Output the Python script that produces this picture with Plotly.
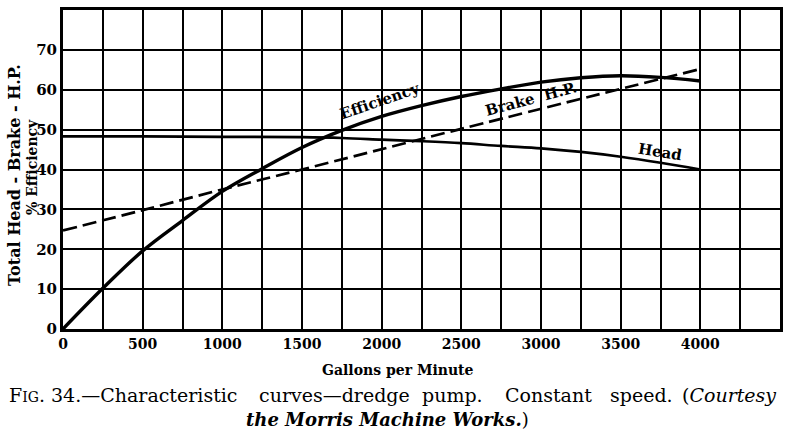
import plotly.graph_objects as go

gpm = [0, 250, 500, 750, 1000, 1250, 1500, 1750, 2000, 2250, 2500, 2750, 3000, 3250, 3500, 3750, 4000]
efficiency = [0, 10.2, 19.6, 27.2, 34.5, 40.2, 45.5, 49.8, 53.3, 56, 58.3, 60.2, 61.9, 63, 63.5, 63.1, 62.2]
head_gpm = [0, 500, 1000, 1500, 1750, 2000, 2250, 2500, 2750, 3000, 3250, 3500, 3750, 4000]
head = [48.3, 48.3, 48.2, 48.1, 47.9, 47.5, 47.1, 46.6, 45.9, 45.3, 44.4, 43.2, 41.7, 40]
brake_gpm = [0, 500, 1000, 1500, 2500, 4000]
brake_hp = [24.7, 29.8, 35, 40, 50.2, 65.2]

x_ticks = [0, 500, 1000, 1500, 2000, 2500, 3000, 3500, 4000]
y_ticks = [0, 10, 20, 30, 40, 50, 60, 70]

curve_labels = ["Efficiency", "Brake  H.P.", "Head"]
label_x = [1990, 2940, 3745]
label_y = [57.3, 57.7, 44.3]
label_angle = [-19, -15, 9]

caption_words = ["F<span style='font-size:14px'>IG</span>.", "34.—Characteristic", "curves—dredge",
                 "pump.", "Constant", "speed.", "(<i>Courtesy</i>"]
caption_left_px = [7, 49, 257, 420, 503, 608, 680]
caption_line2 = "<i><b>the Morris Machine Works.</b></i>)"

L, R, T, B = 63, 6, 10, 104
W, H = 786, 433
PW, PH = W - L - R, H - T - B

fig = go.Figure()
fig.add_trace(go.Scatter(x=gpm, y=efficiency, mode="lines", line=dict(color="black", width=3.4, shape="spline"), showlegend=False))
fig.add_trace(go.Scatter(x=head_gpm, y=head, mode="lines", line=dict(color="black", width=2.7, shape="spline"), showlegend=False))
fig.add_trace(go.Scatter(x=brake_gpm, y=brake_hp, mode="lines", line=dict(color="black", width=2.7, dash="14px,6px", shape="spline"), showlegend=False))

serif = "DejaVu Serif"
for t, x, y, a in zip(curve_labels, label_x, label_y, label_angle):
    fig.add_annotation(x=x, y=y, text="<b>" + t + "</b>", textangle=a, showarrow=False,
                       font=dict(family=serif, size=15, color="black"))

fig.update_xaxes(range=[0, 4500], tickvals=x_ticks, ticktext=[f"<b>{v}</b>" for v in x_ticks],
                 showgrid=True, gridcolor="black", gridwidth=2.2,
                 minor=dict(dtick=250, tick0=0, showgrid=True, gridcolor="black", gridwidth=1.7),
                 showline=True, linecolor="black", linewidth=3, mirror=True, ticks="",
                 zeroline=False, automargin=False, tickfont=dict(family=serif, size=14, color="black"))
fig.update_yaxes(range=[0, 80], tickvals=y_ticks, ticktext=[f"<b>{v}</b>" for v in y_ticks],
                 showgrid=True, gridcolor="black", gridwidth=1.9,
                 showline=True, linecolor="black", linewidth=3, mirror=True, ticks="",
                 zeroline=False, automargin=False, tickfont=dict(family=serif, size=15, color="black"))


def px_x(px):
    return (px - L) / PW


def px_y(py):
    return (H - B - py) / PH


fig.add_annotation(xref="paper", yref="paper", x=px_x(398), y=px_y(370), xanchor="center", yanchor="middle",
                   text="<b>Gallons per Minute</b>", showarrow=False,
                   font=dict(family=serif, size=14, color="black"))
fig.add_annotation(xref="paper", yref="paper", x=px_x(15), y=px_y(175), xanchor="center", yanchor="middle",
                   textangle=-90, text="<b>Total Head - Brake - H.P.</b>", showarrow=False,
                   font=dict(family=serif, size=16, color="black"))
fig.add_annotation(xref="paper", yref="paper", x=px_x(32), y=px_y(167), xanchor="center", yanchor="middle",
                   textangle=-90, text="<b>% Efficiency</b>", showarrow=False,
                   font=dict(family=serif, size=14, color="black"))

for word, lx in zip(caption_words, caption_left_px):
    fig.add_annotation(xref="paper", yref="paper", x=px_x(lx), y=px_y(395), xanchor="left", yanchor="middle",
                       text=word, showarrow=False, font=dict(family=serif, size=19, color="black"))
fig.add_annotation(xref="paper", yref="paper", x=px_x(387), y=px_y(419), xanchor="center", yanchor="middle",
                   text=caption_line2, showarrow=False, font=dict(family=serif, size=18, color="black"))

fig.update_layout(width=W, height=H, margin=dict(l=L, r=R, t=T, b=B),
                  plot_bgcolor="white", paper_bgcolor="white")
fig.write_html("out.html", config={"displayModeBar": False},
               post_script="document.body.style.margin='0';document.body.style.overflow='hidden';")
